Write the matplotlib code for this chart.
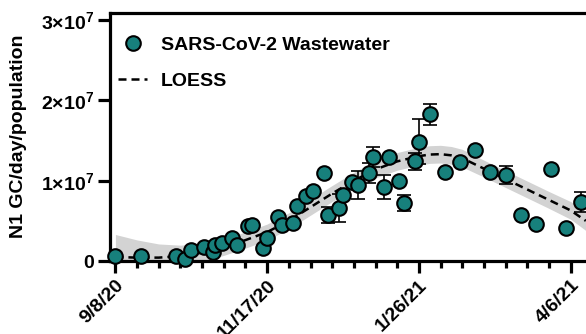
import matplotlib
matplotlib.use("Agg")
import matplotlib.pyplot as plt
import matplotlib.dates as mdates
from matplotlib.lines import Line2D
import numpy as np
import pandas as pd

plt.rcParams['font.family'] = ['Liberation Sans', 'DejaVu Sans']
plt.rcParams['font.weight'] = 'bold'
plt.rcParams['mathtext.fontset'] = 'custom'
plt.rcParams['mathtext.rm'] = 'Liberation Sans:bold'
plt.rcParams['mathtext.bf'] = 'Liberation Sans:bold'
plt.rcParams['mathtext.it'] = 'Liberation Sans:bold'

# Wastewater samples: N1 gene copies/day/population
sample_dates = [
    "2020-09-08", "2020-09-20", "2020-10-06", "2020-10-10", "2020-10-13",
    "2020-10-19", "2020-10-23", "2020-10-24", "2020-10-27", "2020-11-01",
    "2020-11-03", "2020-11-08", "2020-11-10", "2020-11-15", "2020-11-17",
    "2020-11-22", "2020-11-24", "2020-11-29", "2020-12-01", "2020-12-05",
    "2020-12-08", "2020-12-13", "2020-12-15", "2020-12-20", "2020-12-22",
    "2020-12-26", "2020-12-29", "2021-01-03", "2021-01-05", "2021-01-10",
    "2021-01-12", "2021-01-17", "2021-01-19", "2021-01-24", "2021-01-26",
    "2021-01-31", "2021-02-07", "2021-02-14", "2021-02-21", "2021-02-28",
    "2021-03-07", "2021-03-14", "2021-03-21", "2021-03-28", "2021-04-04",
    "2021-04-11",
]
sample_values = [
    0.66e6, 0.66e6, 0.62e6, 0.31e6, 1.41e6,
    1.74e6, 1.16e6, 1.99e6, 2.18e6, 2.83e6,
    1.93e6, 4.36e6, 4.42e6, 1.58e6, 2.83e6,
    5.42e6, 4.48e6, 4.79e6, 6.81e6, 8.03e6,
    8.72e6, 10.92e6, 5.73e6, 6.56e6, 8.22e6,
    9.78e6, 9.46e6, 10.92e6, 12.95e6, 9.18e6,
    12.95e6, 10.0e6, 7.22e6, 12.39e6, 14.86e6,
    18.27e6, 11.08e6, 12.37e6, 13.82e6, 11.08e6,
    10.71e6, 5.69e6, 4.58e6, 11.42e6, 4.07e6,
    7.38e6,
]
sample_errors = [
    0, 0, 0, 0, 0,
    0, 0, 0, 0, 0,
    0, 0, 0, 0, 0,
    0, 0, 0, 0, 0,
    0, 0, 1.0e6, 1.75e6, 0,
    0, 1.75e6, 1.25e6, 1.3e6, 1.5e6,
    0, 0, 1.0e6, 1.1e6, 2.8e6,
    1.3e6, 0, 0, 0, 0,
    1.15e6, 0, 0, 0, 0,
    1.25e6,
]

# LOESS fit and its confidence band
loess_dates = [
    "2020-09-08", "2020-09-18", "2020-09-28", "2020-10-08", "2020-10-18",
    "2020-10-28", "2020-11-07", "2020-11-17", "2020-11-27", "2020-12-07",
    "2020-12-17", "2020-12-27", "2021-01-06", "2021-01-16", "2021-01-26",
    "2021-01-31", "2021-02-05", "2021-02-10", "2021-02-15", "2021-02-25",
    "2021-03-07", "2021-03-17", "2021-03-27", "2021-04-06", "2021-04-13",
]
loess_values = [
    0.50e6, 0.42e6, 0.42e6, 0.62e6, 1.05e6,
    1.75e6, 2.6e6, 3.6e6, 5.0e6, 6.7e6,
    8.4e6, 10.0e6, 11.4e6, 12.4e6, 13.05e6,
    13.25e6, 13.3e6, 13.15e6, 12.8e6, 11.5e6,
    10.2e6, 8.9e6, 7.6e6, 6.3e6, 5.0e6,
]
loess_halfwidth = [
    2.8e6, 2.2e6, 1.7e6, 1.35e6, 1.15e6,
    1.05e6, 1.0e6, 1.0e6, 1.0e6, 1.0e6,
    1.0e6, 1.05e6, 1.05e6, 1.1e6, 1.1e6,
    1.1e6, 1.1e6, 1.1e6, 1.1e6, 1.05e6,
    1.05e6, 1.05e6, 1.05e6, 1.1e6, 1.2e6,
]

tick_dates = ["2020-09-08", "2020-11-17", "2021-01-26", "2021-04-06"]
tick_labels = ["9/8/20", "11/17/20", "1/26/21", "4/6/21"]
y_ticks = [0, 1e7, 2e7, 3e7]
y_tick_labels = ["0", r"$1{\times}10^{7}$", r"$2{\times}10^{7}$", r"$3{\times}10^{7}$"]

W, H = 586, 334
fig = plt.figure(figsize=(W / 100, H / 100), dpi=100)
ax = fig.add_axes([110 / W, (H - 261) / H, (W - 110) / W, (261 - 13) / H])

sd = mdates.date2num(pd.to_datetime(sample_dates))
ld = mdates.date2num(pd.to_datetime(loess_dates))
lv = np.array(loess_values)
lh = np.array(loess_halfwidth)
sv = np.array(sample_values)
se = np.array(sample_errors)

teal = '#17807c'
ax.fill_between(ld, lv - lh, lv + lh, color='#d3d3d3', lw=0, zorder=1)
ax.plot(ld, lv, color='black', lw=1.8, dashes=(3.2, 2.0), zorder=2)

has_err = se > 0
ax.errorbar(sd[has_err], sv[has_err], yerr=se[has_err], fmt='none', ecolor='black',
            elinewidth=1.2, capsize=5, capthick=1.2, zorder=3)
ax.plot(sd, sv, 'o', ms=10.5, mfc=teal, mec='black', mew=1.5, zorder=4, clip_on=False)

t0 = mdates.date2num(pd.Timestamp("2020-09-08"))
ax.set_xlim(t0 - 2.5, t0 + 217.1)
ax.set_ylim(0, 3.087e7)

ax.set_xticks(mdates.date2num(pd.to_datetime(tick_dates)))
ax.set_xticklabels(tick_labels)
ax.set_xticks(t0 + np.arange(0, 217, 10), minor=True)
ax.set_yticks(y_ticks)
ax.set_yticklabels(y_tick_labels)

for sp in ['left', 'bottom', 'top']:
    ax.spines[sp].set_linewidth(2.3)
ax.spines['right'].set_visible(False)

ax.tick_params(axis='both', which='major', width=2.3, length=8.5, labelsize=14, pad=3)
ax.tick_params(axis='x', which='minor', width=2.3, length=5)
for lab in ax.get_xticklabels():
    lab.set_rotation(45)
    lab.set_ha('right')
    lab.set_va('top')
    lab.set_rotation_mode('anchor')
    lab.set_fontweight('bold')
for lab in ax.get_yticklabels():
    lab.set_fontweight('bold')

fig.text(19 / W, 1 - 136 / H, "N1 GC/day/population", rotation=90, ha='center',
         va='center', fontsize=14, fontweight='bold')

handles = [
    Line2D([], [], ls='none', marker='o', ms=10.5, mfc=teal, mec='black', mew=1.5),
    Line2D([], [], color='black', lw=1.8, dashes=(3.2, 2.0)),
]
ax.legend(handles, ["SARS-CoV-2 Wastewater", "LOESS"], loc='upper left',
          bbox_to_anchor=(118 / W, 1 - 36 / H), bbox_transform=fig.transFigure,
          frameon=False, borderpad=0, borderaxespad=0, handlelength=1.5,
          handletextpad=0.7, labelspacing=0.95,
          prop={'weight': 'bold', 'size': 14})

fig.savefig("out.png", dpi=100)
